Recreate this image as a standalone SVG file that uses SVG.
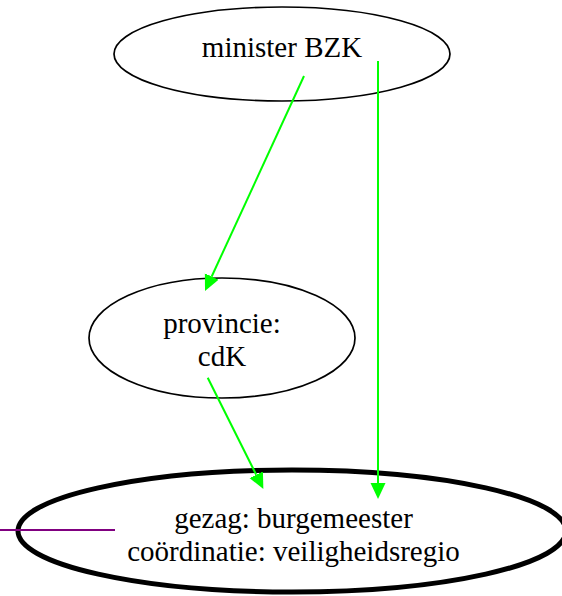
<svg xmlns="http://www.w3.org/2000/svg" width="562" height="596" viewBox="0 0 562 596">
<style>
.node{fill:none;stroke:#000}
.edge{stroke:#00ff00;stroke-width:2;fill:none}
text{font-family:"Liberation Serif","Times New Roman",serif;font-size:29px;fill:#000;text-anchor:middle}
</style>
<defs>
<marker id="ah" markerUnits="userSpaceOnUse" markerWidth="18" markerHeight="18" viewBox="0 -9 18 18" refX="0" refY="0" orient="auto">
<path d="M0,-7.5 L16,0 L0,7.5 z" fill="#00ff00"/>
</marker>
</defs>
<rect width="562" height="596" fill="#fff"/>
<g id="minister">
<ellipse class="node" cx="282" cy="54" rx="168" ry="47" stroke-width="1.7"/>
<text x="282" y="57">minister BZK</text>
</g>
<g id="provincie">
<ellipse class="node" cx="222" cy="338" rx="133" ry="60" stroke-width="1.7"/>
<text x="222" y="333">provincie:</text>
<text x="222" y="366">cdK</text>
</g>
<g id="gemeente">
<ellipse class="node" cx="292" cy="531" rx="274" ry="61" stroke-width="5"/>
<text x="293.5" y="528">gezag: burgemeester</text>
<text x="293.5" y="561">coördinatie: veiligheidsregio</text>
</g>
<g id="connectors">
<line class="edge" x1="304" y1="76" x2="211.7" y2="276.5" marker-end="url(#ah)"/>
<line class="edge" x1="378" y1="61" x2="378" y2="483" marker-end="url(#ah)"/>
<line class="edge" x1="207.7" y1="377.7" x2="256.2" y2="474.7" marker-end="url(#ah)"/>
<line x1="0" y1="530" x2="115" y2="530" stroke="#800080" stroke-width="2"/>
</g>
</svg>
